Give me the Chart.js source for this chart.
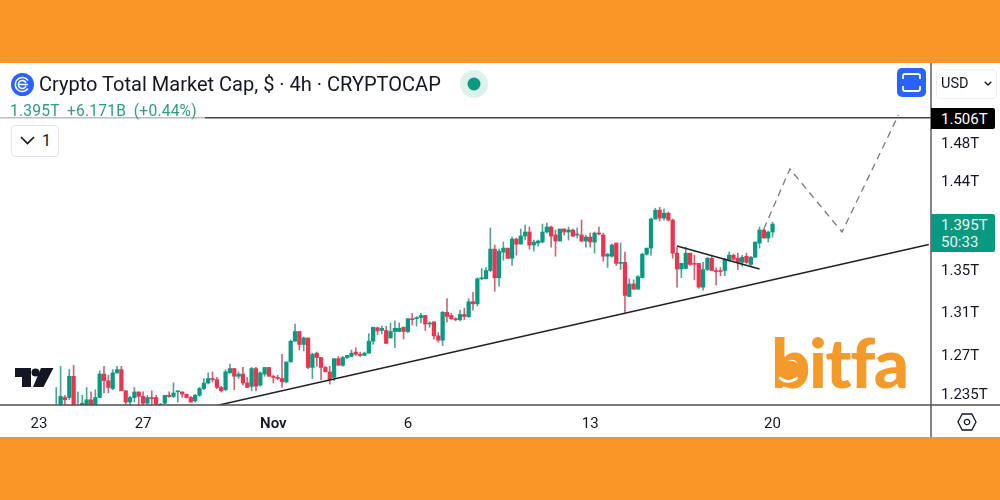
<!DOCTYPE html>
<html><head><meta charset="utf-8">
<script src="https://cdn.jsdelivr.net/npm/chart.js@4"></script>
<style>
html,body{margin:0;padding:0;background:#F99627;width:1000px;height:500px;overflow:hidden;font-family:Roboto,sans-serif}
#panel{position:absolute;left:0;top:63px;width:1000px;height:374px;background:#fff}
#c{position:absolute;left:0;top:63px}
.o{position:absolute;white-space:nowrap}
svg.o{overflow:visible}
</style></head><body>
<div id="panel"></div>
<canvas id="c" width="1000" height="374"></canvas>

<svg class="o" style="left:14px;top:367px" width="40" height="21" viewBox="0 0 40 21"><path d="M1 1H17V20H8V10H1Z M27 1H39.5L29.5 20H19Z" fill="#131722"/><circle cx="21.5" cy="5.5" r="4" fill="#131722"/></svg>

<div class="o" id="brand" style="left:771px;top:320px;font:900 69px/84px Lato,sans-serif;color:#F39A2B;letter-spacing:-1.4px">bitfa</div>
<svg class="o" style="left:770px;top:350px" width="40" height="40" viewBox="0 0 40 40"><circle cx="19" cy="24" r="13.5" fill="#F39A2B"/><path d="M10 28Q18 35 27 28" fill="none" stroke="#fff" stroke-width="2.6" stroke-linecap="round"/></svg>

<svg class="o" style="left:11px;top:73px" width="23" height="23" viewBox="0 0 23 23"><circle cx="11.5" cy="11.5" r="11.5" fill="#2962FF"/><path d="M17 7.5A7 7 0 1 0 17 15.5M15 10A4 4 0 1 0 15 13M8 11.5H17" fill="none" stroke="#fff" stroke-width="1.6"/></svg>
<div class="o" style="left:39px;top:72px;font:400 20.05px/24px Roboto,sans-serif;color:#131722">Crypto Total Market Cap, $ · 4h · CRYPTOCAP</div>
<svg class="o" style="left:460px;top:70px" width="28" height="28" viewBox="0 0 28 28"><circle cx="14" cy="14" r="14" fill="#DFF1ED"/><circle cx="14" cy="14" r="6.5" fill="#089981"/></svg>
<div class="o" style="left:0;top:102px;width:205px;height:18px;background:rgba(255,255,255,.65);z-index:1"></div>
<div class="o" style="left:10px;top:102px;font:400 15.6px/18px Roboto,sans-serif;color:#2E9C85;letter-spacing:.2px;word-spacing:3.6px;z-index:2">1.395T +6.171B (+0.44%)</div>
<div class="o" style="left:11px;top:125px;width:46px;height:30px;border:1px solid #E0E3EB;border-radius:4px;background:#fff"></div>
<svg class="o" style="left:20px;top:136px" width="15" height="9" viewBox="0 0 15 9"><path d="M1 1L7.5 7.5L14 1" fill="none" stroke="#131722" stroke-width="1.7"/></svg>
<div class="o" style="left:42px;top:131px;font:400 16px/19px Roboto,sans-serif;color:#131722">1</div>

<svg class="o" style="left:897px;top:68px" width="29" height="29" viewBox="0 0 29 29"><rect width="29" height="29" rx="5" fill="#2962FF"/><path d="M6 11V8Q6 6 8 6H21Q23 6 23 8V11M6 18V21Q6 23 8 23H21Q23 23 23 21V18" fill="none" stroke="#fff" stroke-width="1.8"/></svg>
<div class="o" style="left:936px;top:69px;width:59px;height:28px;border:1px solid #EEE;border-radius:4px"></div>
<div class="o" style="left:941px;top:75px;font:400 14.5px/17px Roboto,sans-serif;color:#131722">USD</div>
<svg class="o" style="left:984px;top:81px" width="8" height="5" viewBox="0 0 8 5"><path d="M.7.7L4 4L7.3.7" fill="none" stroke="#131722" stroke-width="1.3"/></svg>

<div class="o" style="left:931px;top:108px;width:64px;height:21px;background:#000;border-radius:0 2px 2px 0;font:400 15px/23px Roboto,sans-serif;color:#fff;padding-left:10px;box-sizing:border-box">1.506T</div>
<div class="o" style="left:931px;top:214px;width:64px;height:38px;background:#089981;border-radius:0 2px 2px 0;font:400 15px/17px Roboto,sans-serif;color:#E6F5F2;padding:3px 0 0 10px;box-sizing:border-box">1.395T<br>50:33</div>

<svg class="o" style="left:957px;top:413px" width="20" height="18" viewBox="0 0 20 18"><path d="M5.2 1H14.8L19 9L14.8 17H5.2L1 9Z M10 6.3A2.7 2.7 0 1 0 10 11.7A2.7 2.7 0 1 0 10 6.3Z" fill="none" stroke="#131722" stroke-width="1.3"/></svg>

<script>
const slotCount = 214;
const firstCandleSlot = 12;
const categories = Array.from({length: slotCount}, (_, i) => 'bar ' + i);
const tickSlots = [8, 32, 62, 93, 135, 177];
const tickLabels = ['23', '27', 'Nov', '6', '13', '20'];
const priceTicks = [1.235, 1.27, 1.31, 1.35, 1.44, 1.48];
const priceTickLabels = ['1.235T', '1.27T', '1.31T', '1.35T', '1.44T', '1.48T'];
const priceMin = 1.2244, priceMax = 1.5667;

const opens = [
1.218,1.220,1.231,1.231,1.250,1.222,1.223,1.222,1.229,1.223,
1.231,1.252,1.246,1.239,1.253,1.256,1.237,1.227,1.231,1.236,
1.232,1.226,1.231,1.231,1.223,1.226,1.233,1.232,1.236,1.236,
1.234,1.231,1.228,1.233,1.239,1.244,1.248,1.247,1.240,1.238,
1.253,1.257,1.250,1.252,1.244,1.241,1.257,1.242,1.252,1.258,
1.250,1.249,1.248,1.245,1.263,1.282,1.291,1.279,1.285,1.258,
1.271,1.267,1.258,1.254,1.249,1.266,1.260,1.267,1.268,1.272,
1.270,1.269,1.271,1.282,1.2945,1.292,1.292,1.285,1.291,1.291,
1.295,1.291,1.303,1.303,1.304,1.306,1.298,1.300,1.287,1.283,
1.309,1.306,1.303,1.302,1.307,1.305,1.319,1.317,1.341,1.341,
1.349,1.370,1.342,1.367,1.371,1.361,1.380,1.375,1.383,1.387,
1.374,1.376,1.377,1.387,1.392,1.384,1.378,1.390,1.387,1.389,
1.384,1.384,1.378,1.382,1.377,1.386,1.384,1.363,1.363,1.376,
1.356,1.357,1.324,1.336,1.331,1.342,1.365,1.371,1.400,1.409,
1.401,1.406,1.399,1.366,1.3505,1.351,1.366,1.356,1.356,1.333,
1.350,1.361,1.349,1.349,1.349,1.359,1.364,1.361,1.357,1.363,
1.355,1.362,1.376,1.389,1.381,1.387];
const closes = [
1.223,1.232,1.229,1.250,1.222,1.224,1.226,1.229,1.223,1.231,
1.252,1.246,1.240,1.253,1.256,1.237,1.227,1.231,1.236,1.232,
1.226,1.231,1.230,1.225,1.225,1.233,1.232,1.235,1.237,1.234,
1.231,1.227,1.233,1.239,1.244,1.248,1.247,1.240,1.237,1.254,
1.257,1.250,1.252,1.244,1.240,1.257,1.241,1.253,1.258,1.250,
1.249,1.248,1.245,1.263,1.282,1.291,1.279,1.285,1.258,1.270,
1.267,1.258,1.254,1.247,1.266,1.260,1.267,1.269,1.271,1.270,
1.269,1.271,1.282,1.295,1.2915,1.294,1.280,1.291,1.294,1.294,
1.291,1.303,1.302,1.304,1.306,1.298,1.299,1.287,1.283,1.309,
1.305,1.303,1.302,1.307,1.305,1.319,1.317,1.341,1.342,1.349,
1.370,1.342,1.368,1.371,1.361,1.380,1.375,1.383,1.387,1.374,
1.377,1.378,1.387,1.392,1.383,1.378,1.390,1.387,1.389,1.383,
1.385,1.378,1.382,1.377,1.386,1.385,1.363,1.365,1.374,1.356,
1.357,1.325,1.336,1.331,1.343,1.365,1.371,1.400,1.409,1.401,
1.406,1.399,1.366,1.3505,1.356,1.366,1.355,1.355,1.333,1.350,
1.361,1.349,1.348,1.348,1.360,1.364,1.360,1.357,1.362,1.357,
1.362,1.377,1.389,1.381,1.387,1.395];
const highs = [
1.240,1.259,1.233,1.256,1.260,1.236,1.233,1.240,1.236,1.238,
1.255,1.259,1.251,1.256,1.259,1.259,1.237,1.232,1.240,1.236,
1.236,1.233,1.237,1.233,1.226,1.233,1.236,1.244,1.237,1.236,
1.234,1.232,1.234,1.240,1.248,1.253,1.254,1.249,1.241,1.256,
1.261,1.257,1.254,1.258,1.249,1.258,1.258,1.254,1.258,1.258,
1.251,1.251,1.270,1.263,1.283,1.298,1.291,1.286,1.285,1.271,
1.272,1.267,1.259,1.259,1.266,1.268,1.268,1.269,1.274,1.276,
1.272,1.272,1.289,1.295,1.295,1.296,1.296,1.299,1.301,1.299,
1.295,1.303,1.308,1.305,1.308,1.306,1.300,1.300,1.290,1.310,
1.322,1.308,1.304,1.311,1.313,1.322,1.328,1.342,1.351,1.352,
1.391,1.374,1.370,1.377,1.371,1.382,1.381,1.390,1.394,1.392,
1.379,1.379,1.395,1.396,1.393,1.389,1.390,1.390,1.392,1.390,
1.391,1.399,1.384,1.386,1.387,1.392,1.386,1.366,1.375,1.376,
1.376,1.367,1.341,1.340,1.344,1.366,1.371,1.401,1.411,1.412,
1.410,1.407,1.400,1.372,1.356,1.372,1.366,1.364,1.356,1.357,
1.362,1.364,1.352,1.352,1.361,1.367,1.365,1.366,1.364,1.366,
1.363,1.377,1.392,1.390,1.388,1.397];
const lows = [
1.216,1.219,1.222,1.229,1.218,1.220,1.222,1.221,1.222,1.222,
1.231,1.235,1.235,1.238,1.253,1.237,1.224,1.224,1.227,1.224,
1.224,1.224,1.224,1.224,1.223,1.225,1.231,1.231,1.227,1.231,
1.2305,1.227,1.227,1.232,1.238,1.243,1.245,1.239,1.236,1.237,
1.253,1.238,1.248,1.242,1.240,1.237,1.237,1.241,1.250,1.250,
1.244,1.247,1.240,1.244,1.263,1.282,1.274,1.273,1.257,1.248,
1.259,1.247,1.254,1.243,1.246,1.260,1.259,1.266,1.268,1.269,
1.268,1.269,1.271,1.279,1.288,1.289,1.280,1.285,1.276,1.291,
1.284,1.290,1.297,1.296,1.299,1.292,1.295,1.284,1.281,1.278,
1.300,1.302,1.301,1.301,1.302,1.304,1.311,1.315,1.340,1.341,
1.348,1.329,1.334,1.359,1.361,1.354,1.364,1.375,1.379,1.370,
1.368,1.373,1.376,1.386,1.372,1.363,1.378,1.384,1.379,1.382,
1.381,1.377,1.372,1.372,1.366,1.384,1.358,1.352,1.362,1.354,
1.350,1.309,1.324,1.331,1.331,1.342,1.364,1.364,1.400,1.398,
1.399,1.398,1.361,1.333,1.342,1.3505,1.354,1.340,1.332,1.330,
1.349,1.349,1.335,1.344,1.344,1.358,1.359,1.350,1.353,1.356,
1.353,1.362,1.371,1.381,1.377,1.382];

const supportSlots = [49, 213], supportValues = [1.224, 1.3746];
const pennantSlots = [155, 174], pennantValues = [1.373, 1.3505];
const forecastSlots = [175, 181, 193, 206], forecastValues = [1.390, 1.4515, 1.387, 1.509];
const targetPrice = 1.506;

const upColor = '#089981', downColor = '#EE3350';
const upWick = '#4FA595', downWick = '#C8677A';
const pad = Array(firstCandleSlot).fill(null);
const isUp = opens.map((o, i) => closes[i] >= o);
const points = (slots, vals) => slots.map((s, i) => ({x: categories[s], y: vals[i]}));

const frame = {
  id: 'frame',
  beforeDraw(chart) {
    /* the price labels sit 2px below their tick position in the reference */
    chart.scales.y.getLabelItems().forEach(item => {
      if (!item.shifted) { item.options.translation[1] += 2; item.shifted = true; }
    });
  },
  afterDatasetsDraw(chart) {
    const {ctx, chartArea, scales} = chart;
    ctx.save();
    ctx.strokeStyle = '#444';
    ctx.lineWidth = 1.4;
    const y = scales.y.getPixelForValue(targetPrice);
    ctx.beginPath(); ctx.moveTo(0, y); ctx.lineTo(chartArea.right, y); ctx.stroke();
    ctx.strokeStyle = '#4F4F4F';
    ctx.beginPath(); ctx.moveTo(0, chartArea.bottom); ctx.lineTo(chart.width, chartArea.bottom); ctx.stroke();
    ctx.beginPath(); ctx.moveTo(chartArea.right, 0); ctx.lineTo(chartArea.right, chart.height); ctx.stroke();
    ctx.restore();
  }
};
const noMargins = s => { s.paddingLeft = s.paddingRight = s.paddingTop = s.paddingBottom = 0; };

new Chart(document.getElementById('c'), {
  data: {
    labels: categories,
    datasets: [
      {type: 'bar', label: 'wick', order: 3, grouped: false, barThickness: 1,
       data: pad.concat(lows.map((l, i) => [l, highs[i]])),
       backgroundColor: pad.concat(isUp.map(u => u ? upWick : downWick))},
      {type: 'bar', label: 'body', order: 2, grouped: false, barThickness: 3.6, minBarLength: 1,
       data: pad.concat(opens.map((o, i) => [o, closes[i]])),
       backgroundColor: pad.concat(isUp.map(u => u ? upColor : downColor))},
      {type: 'line', label: 'support', order: 1, data: points(supportSlots, supportValues),
       borderColor: '#222', borderWidth: 1.6, pointRadius: 0},
      {type: 'line', label: 'pennant', order: 1, data: points(pennantSlots, pennantValues),
       borderColor: '#222', borderWidth: 1.6, pointRadius: 0},
      {type: 'line', label: 'forecast', order: 1, data: points(forecastSlots, forecastValues),
       borderColor: '#7A7A7A', borderWidth: 1.3, borderDash: [7, 5], pointRadius: 0}
    ]
  },
  options: {
    responsive: false,
    animation: false,
    events: [],
    layout: {padding: {left: 2}},
    plugins: {legend: {display: false}, tooltip: {enabled: false}},
    scales: {
      x: {
        type: 'category',
        offset: true,
        grid: {display: false, drawTicks: false},
        border: {display: false},
        afterFit(s) { s.height = 32; noMargins(s); },
        ticks: {
          autoSkip: false, maxRotation: 0, minRotation: 0, padding: 10,
          color: '#131722',
          font: c => ({family: 'Roboto', size: 15, weight: c.tick && c.tick.label === 'Nov' ? '600' : '400'}),
          callback(v, i) { const k = tickSlots.indexOf(i); return k >= 0 ? tickLabels[k] : ''; }
        }
      },
      y: {
        type: 'logarithmic',
        position: 'right',
        bounds: 'data',
        min: priceMin,
        max: priceMax,
        grid: {display: false, drawTicks: false},
        border: {display: false},
        afterFit(s) { s.width = 69; noMargins(s); },
        afterBuildTicks(s) { s.ticks = priceTicks.map(v => ({value: v})); },
        ticks: {
          autoSkip: false, padding: 10, color: '#131722',
          font: {family: 'Roboto', size: 15},
          callback(v) { return priceTickLabels[priceTicks.indexOf(v)]; }
        }
      }
    }
  },
  plugins: [frame]
});
</script>
</body></html>
